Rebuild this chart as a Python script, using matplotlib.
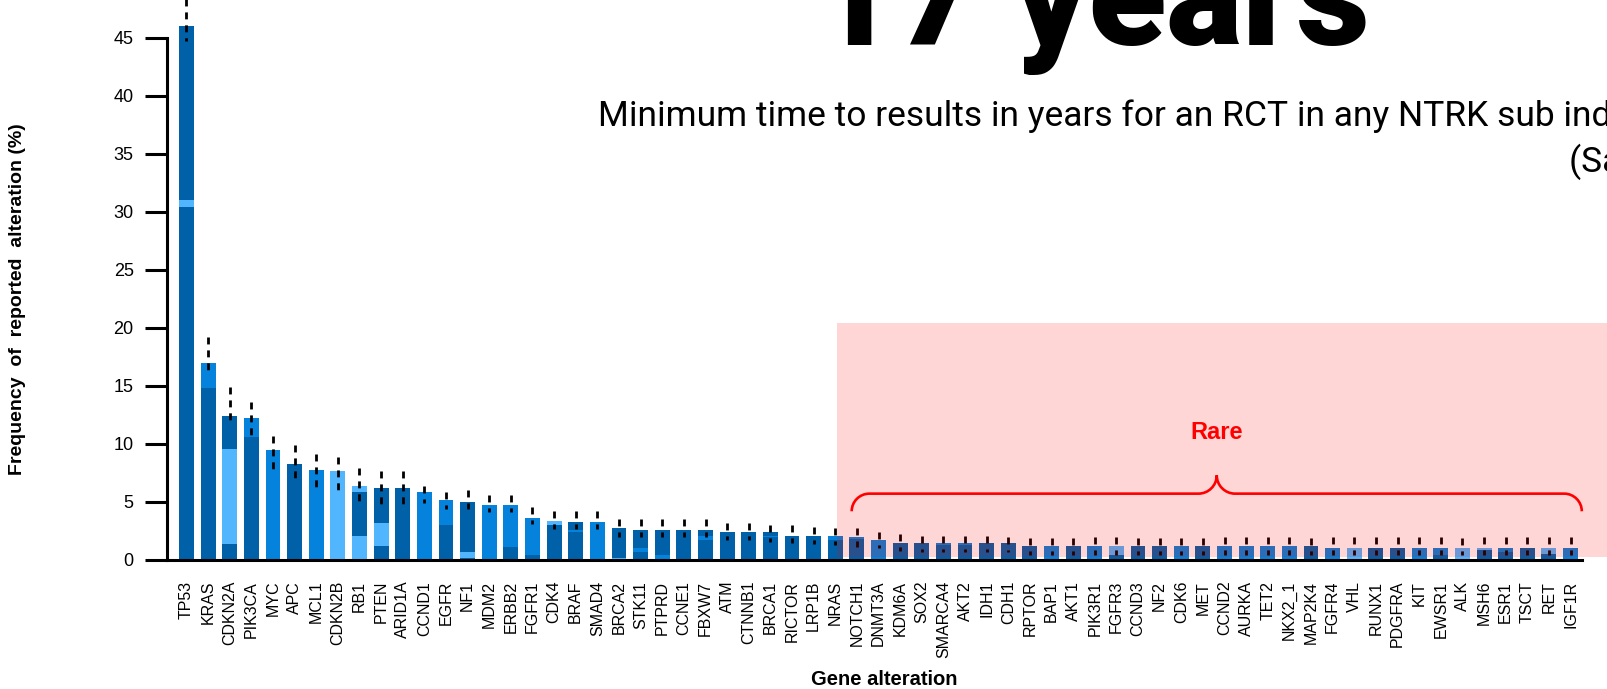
import matplotlib
matplotlib.use("Agg")
import matplotlib.pyplot as plt
from matplotlib.patches import Rectangle, PathPatch
from matplotlib.path import Path
from matplotlib.transforms import IdentityTransform

plt.rcParams['font.family'] = ['Liberation Sans', 'DejaVu Sans']
plt.rcParams['lines.scale_dashes'] = False

# ---------------------------------------------------------------- data
genes = ["TP53", "KRAS", "CDKN2A", "PIK3CA", "MYC", "APC", "MCL1", "CDKN2B",
         "RB1", "PTEN", "ARID1A", "CCND1", "EGFR", "NF1", "MDM2", "ERBB2",
         "FGFR1", "CDK4", "BRAF", "SMAD4", "BRCA2", "STK11", "PTPRD", "CCNE1",
         "FBXW7", "ATM", "CTNNB1", "BRCA1", "RICTOR", "LRP1B", "NRAS",
         "NOTCH1", "DNMT3A", "KDM6A", "SOX2", "SMARCA4", "AKT2", "IDH1",
         "CDH1", "RPTOR", "BAP1", "AKT1", "PIK3R1", "FGFR3", "CCND3", "NF2",
         "CDK6", "MET", "CCND2", "AURKA", "TET2", "NKX2_1", "MAP2K4", "FGFR4",
         "VHL", "RUNX1", "PDGFRA", "KIT", "EWSR1", "ALK", "MSH6", "ESR1",
         "TSCT", "RET", "IGF1R"]

# stacked pieces per gene, bottom to top: (alteration class, cumulative top in %)
stacks = [
    [("D", 30.4), ("L", 31.0), ("D", 46.0)],   # TP53
    [("D", 14.8), ("M", 17.0)],                # KRAS
    [("D", 1.4), ("L", 9.6), ("D", 12.4)],     # CDKN2A
    [("D", 10.6), ("M", 12.2)],                # PIK3CA
    [("M", 9.5)],                              # MYC
    [("D", 8.3)],                              # APC
    [("M", 7.8)],                              # MCL1
    [("L", 7.7)],                              # CDKN2B
    [("L", 2.1), ("D", 5.9), ("L", 6.35)],     # RB1
    [("D", 1.2), ("L", 3.15), ("D", 6.2)],     # PTEN
    [("D", 6.2)],                              # ARID1A
    [("M", 5.85)],                             # CCND1
    [("D", 3.05), ("M", 5.2)],                 # EGFR
    [("D", 0.15), ("L", 0.65), ("D", 5.0)],    # NF1
    [("M", 4.7)],                              # MDM2
    [("D", 1.15), ("M", 4.7)],                 # ERBB2
    [("D", 0.45), ("M", 3.6)],                 # FGFR1
    [("D", 3.0), ("L", 3.4)],                  # CDK4
    [("D", 2.45), ("M", 2.55), ("D", 3.3)],    # BRAF
    [("M", 3.25)],                             # SMAD4
    [("L", 0.2), ("D", 2.8)],                  # BRCA2
    [("D", 0.65), ("M", 1.0), ("D", 2.6)],     # STK11
    [("M", 0.45), ("D", 2.6)],                 # PTPRD
    [("D", 2.6)],                              # CCNE1
    [("D", 1.7), ("M", 2.1), ("D", 2.6)],      # FBXW7
    [("D", 2.45)],                             # ATM
    [("D", 2.45)],                             # CTNNB1
    [("D", 1.95), ("M", 2.1), ("D", 2.45)],    # BRCA1
    [("D", 2.1)],                              # RICTOR
    [("M", 0.1), ("D", 2.1)],                  # LRP1B
    [("D", 1.7), ("M", 2.1)],                  # NRAS
    [("D", 1.8), ("M", 1.95)],                 # NOTCH1
    [("M", 1.7)],                              # DNMT3A
    [("D", 1.45)],                             # KDM6A
    [("D", 1.45)],                             # SOX2
    [("D", 1.3), ("M", 1.45)],                 # SMARCA4
    [("D", 1.3), ("M", 1.45)],                 # AKT2
    [("D", 1.45)],                             # IDH1
    [("D", 1.45)],                             # CDH1
    [("D", 1.2)],                              # RPTOR
    [("M", 1.2)],                              # BAP1
    [("D", 1.2)],                              # AKT1
    [("M", 1.2)],                              # PIK3R1
    [("D", 0.45), ("L", 1.2)],                 # FGFR3
    [("D", 1.2)],                              # CCND3
    [("D", 1.2)],                              # NF2
    [("M", 1.2)],                              # CDK6
    [("D", 1.2)],                              # MET
    [("M", 1.2)],                              # CCND2
    [("M", 1.2)],                              # AURKA
    [("M", 1.2)],                              # TET2
    [("M", 1.2)],                              # NKX2_1
    [("D", 1.2)],                              # MAP2K4
    [("M", 1.05)],                             # FGFR4
    [("L", 1.05)],                             # VHL
    [("D", 1.05)],                             # RUNX1
    [("D", 1.05)],                             # PDGFRA
    [("M", 1.05)],                             # KIT
    [("D", 0.4), ("M", 1.05)],                 # EWSR1
    [("L", 1.05)],                             # ALK
    [("D", 0.85), ("L", 1.05)],                # MSH6
    [("D", 0.7), ("M", 1.05)],                 # ESR1
    [("D", 1.05)],                             # TSCT
    [("D", 0.5), ("L", 1.05)],                 # RET
    [("M", 1.05)],                             # IGF1R
]

err_high = [48.5, 19.2, 14.9, 13.6, 10.7, 9.9, 9.1, 8.9, 7.9, 7.7, 7.7, 6.4,
            5.9, 6.0, 5.6, 5.6, 4.6, 4.2, 4.2, 4.2, 3.55, 3.5, 3.55, 3.55,
            3.5, 3.2, 3.2, 3.05, 3.0, 2.85, 2.75,
            2.75, 2.45, 2.2, 2.1, 2.1, 2.1, 2.1, 2.0, 1.9, 1.9, 1.9, 1.95,
            1.95, 1.9, 1.9, 1.9, 1.9,
            1.95, 1.95, 2.0, 2.0, 1.9, 1.95, 1.95, 1.95, 2.0, 2.0, 1.95, 1.9,
            1.95, 1.95, 1.95, 2.0, 2.0]
err_low = [44.7, 16.2, 11.8, 10.7, 7.7, 6.9, 6.1, 6.0, 4.9, 4.8, 4.8, 4.9,
           4.4, 4.4, 4.1, 4.1, 3.1, 2.7, 2.7, 2.7, 2.0, 2.0, 2.0, 2.0,
           2.0, 1.7, 1.7, 1.55, 1.5, 1.35, 1.25,
           1.15, 1.0, 0.8, 0.7, 0.7, 0.7, 0.7, 0.65, 0.45, 0.45, 0.45, 0.45,
           0.45, 0.45, 0.45, 0.45, 0.45,
           0.4, 0.4, 0.4, 0.4, 0.4, 0.4, 0.4, 0.4, 0.4, 0.4, 0.4, 0.4,
           0.4, 0.4, 0.4, 0.4, 0.4]

y_ticks = [0, 5, 10, 15, 20, 25, 30, 35, 40, 45]
rare_first = "NOTCH1"

class_colors = {"D": "#0060A8", "M": "#0582DC", "L": "#52B6FF"}

# ---------------------------------------------------------------- figure
fig = plt.figure(figsize=(16.08, 6.89), dpi=100)
ax = fig.add_axes([0.10386, 0.18723, 0.87998, 0.75762])

bar_w = 0.69
for i, pieces in enumerate(stacks):
    prev = 0.0
    for cls, top in pieces:
        ax.bar(i, top - prev, bottom=prev, width=bar_w,
               color=class_colors[cls], linewidth=0, clip_on=False, zorder=2)
        prev = top
    ax.plot([i, i], [err_high[i], err_low[i]], color="black", lw=2.0,
            dashes=(5.0, 4.3), solid_capstyle="butt", dash_capstyle="butt",
            clip_on=False, zorder=3)

ax.set_xlim(-0.90, len(genes) - 1 + 0.53)
ax.set_ylim(0, 45)
ax.set_yticks(y_ticks)
ax.set_xticks(range(len(genes)))
ax.set_xticklabels(genes, rotation=90, fontsize=11.5, va="top", ha="center")
ax.tick_params(axis="x", length=0, pad=15)
ax.tick_params(axis="y", length=16, width=2.2, labelsize=13, pad=8)

for side in ("top", "right"):
    ax.spines[side].set_visible(False)
for side in ("left", "bottom"):
    ax.spines[side].set_linewidth(2.2)

ax.set_ylabel("Frequency  of  reported  alteration (%)", fontsize=14,
              fontweight="bold")
ax.yaxis.set_label_coords(-0.0996, 0.5)
ax.set_xlabel("Gene alteration", fontsize=14.5, fontweight="bold", va="top")
ax.xaxis.set_label_coords(0.507, -0.21)

# shaded band over the rare alterations
i_rare = genes.index(rare_first)
shade = Rectangle((i_rare - 0.93, 0.22), 40, 20.2, facecolor=(1, 0, 0, 0.16),
                  edgecolor="none", clip_on=False, zorder=5)
ax.add_patch(shade)

# curly brace spanning the rare group
x_left, x_right = i_rare - 0.24, len(genes) - 1 + 0.52
y_end, y_line, y_tip = 4.2, 5.72, 7.3
X0, Yend = ax.transData.transform((x_left, y_end))
X1, _ = ax.transData.transform((x_right, y_end))
_, Yline = ax.transData.transform((x_left, y_line))
_, Ytip = ax.transData.transform((x_left, y_tip))
Xc = 0.5 * (X0 + X1)
r = Yline - Yend
rt = Ytip - Yline
k = 0.5523
verts = [
    (X0, Yend),
    (X0, Yend + k * r), (X0 + r - k * r, Yline), (X0 + r, Yline),
    (Xc - rt, Yline),
    (Xc - rt + k * rt, Yline), (Xc, Yline + rt - k * rt), (Xc, Ytip),
    (Xc, Yline + rt - k * rt), (Xc + rt - k * rt, Yline), (Xc + rt, Yline),
    (X1 - r, Yline),
    (X1 - r + k * r, Yline), (X1, Yend + k * r), (X1, Yend),
]
codes = [Path.MOVETO,
         Path.CURVE4, Path.CURVE4, Path.CURVE4,
         Path.LINETO,
         Path.CURVE4, Path.CURVE4, Path.CURVE4,
         Path.CURVE4, Path.CURVE4, Path.CURVE4,
         Path.LINETO,
         Path.CURVE4, Path.CURVE4, Path.CURVE4]
fig.add_artist(PathPatch(Path(verts, codes), transform=IdentityTransform(),
                         fill=False, edgecolor="#FF0000", lw=1.9, zorder=6))

ax.text(0.5 * (x_left + x_right), 11.0, "Rare", color="#FF0000",
        fontsize=17, fontweight="bold", ha="center", va="center", zorder=6)

# headline text
fig.text(0.5055, 0.9350, "17 years", fontsize=103, fontweight="black",
         family=["Roboto", "DejaVu Sans"], ha="left", va="baseline")
fig.text(0.3719, 0.8171,
         "Minimum time to results in years for an RCT in any NTRK sub indication",
         fontsize=25.5, family=["Roboto", "DejaVu Sans"], ha="left",
         va="baseline")
fig.text(0.9757, 0.7504, "(Sample size calculation)", fontsize=25.5,
         family=["Roboto", "DejaVu Sans"], ha="left", va="baseline")

fig.savefig("out.png", dpi=100)
